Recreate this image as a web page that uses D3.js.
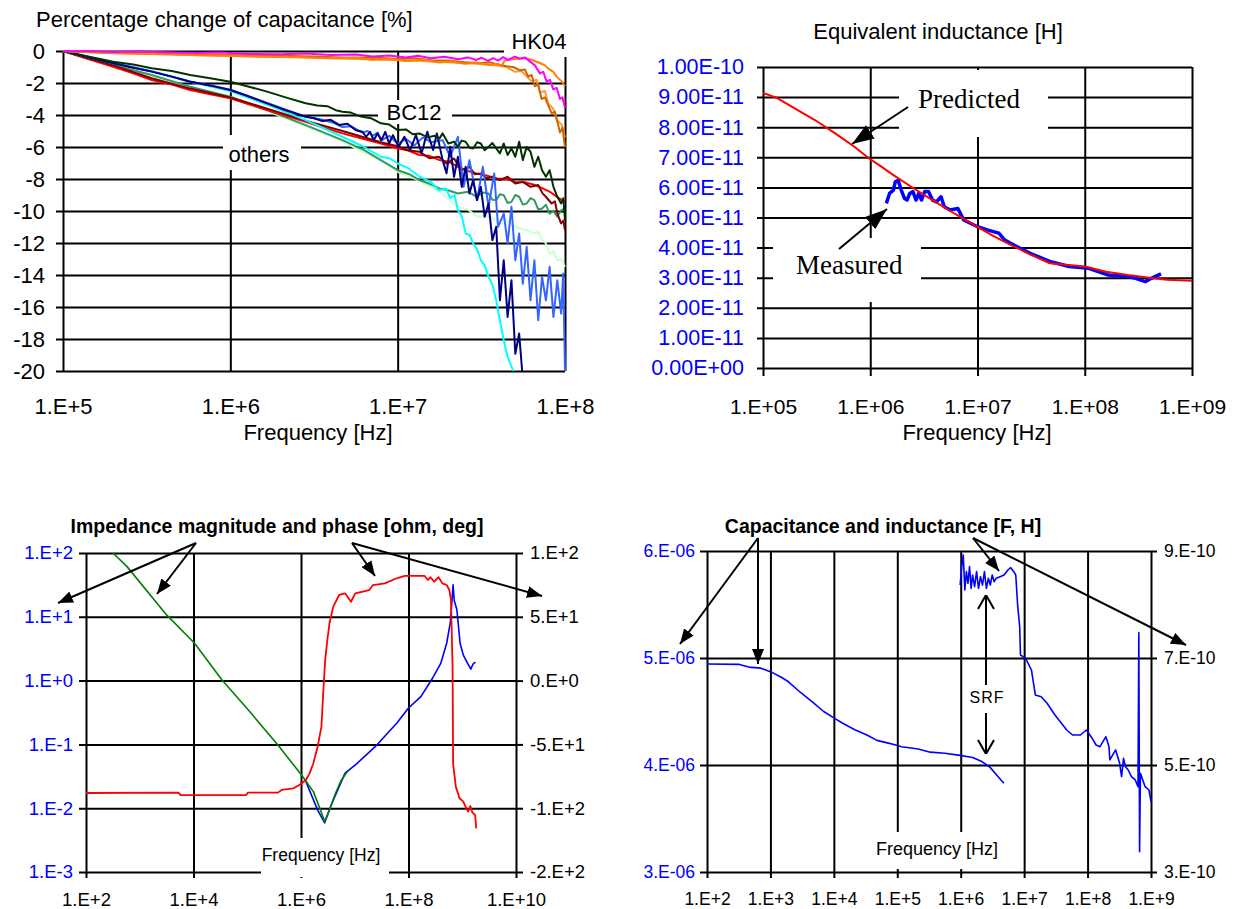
<html>
<head>
<meta charset="utf-8">
<script src="https://d3js.org/d3.v7.min.js"></script>
<style>
  body { margin: 0; background: white; }
</style>
</head>
<body>
<svg id="fig" width="1234" height="909"></svg>
<script>
// x values in every series are log10(frequency / Hz)

// ---------- top left: percentage change of capacitance [%]
var pctFreqTicks = [1e5, 1e6, 1e7, 1e8];
var pctFreqLabels = ["1.E+5", "1.E+6", "1.E+7", "1.E+8"];
var pctTicks = [0, -2, -4, -6, -8, -10, -12, -14, -16, -18, -20];
var pctLabels = ["0", "-2", "-4", "-6", "-8", "-10", "-12", "-14", "-16", "-18", "-20"];

var hkMagenta = [[5.0,0],[5.15,-0.02],[5.3,-0.06],[5.45,-0.03],[5.6,-0.08],[5.8,-0.12],[5.95,-0.1],[6.1,-0.18],[6.3,-0.2],[6.45,-0.16],[6.6,-0.25],[6.75,-0.22],[6.85,-0.34],[6.95,-0.28],[7.05,-0.4],[7.12,-0.3],[7.2,-0.45],[7.28,-0.36],[7.36,-0.52],[7.42,-0.4],[7.47,-0.56],[7.5,-0.42],[7.54,-0.62],[7.57,-0.45],[7.6,-0.6],[7.63,-0.38],[7.66,-0.55],[7.7,-0.35],[7.73,-0.48],[7.76,-0.4],[7.79,-0.65],[7.82,-0.9],[7.85,-1.4],[7.87,-1.3],[7.89,-1.9],[7.91,-1.8],[7.93,-2.4],[7.95,-2.3],[7.97,-3.0],[7.985,-2.9],[8.0,-3.55]];
var hkOrange = [[5.0,0],[5.2,-0.1],[5.4,-0.16],[5.6,-0.2],[5.8,-0.26],[6.0,-0.3],[6.2,-0.36],[6.4,-0.38],[6.6,-0.45],[6.75,-0.42],[6.85,-0.55],[6.95,-0.48],[7.05,-0.62],[7.15,-0.55],[7.25,-0.72],[7.32,-0.65],[7.4,-0.8],[7.47,-0.72],[7.55,-0.88],[7.6,-0.8],[7.62,-0.95],[7.64,-0.6],[7.7,-0.5],[7.76,-0.45],[7.8,-0.55],[7.85,-0.75],[7.88,-0.9],[7.9,-1.1],[7.93,-1.3],[7.95,-1.6],[7.98,-1.9],[8.0,-2.2]];
var hkBrown = [[5.0,0],[5.3,-0.1],[5.7,-0.2],[6.0,-0.25],[6.3,-0.3],[6.5,-0.35],[6.7,-0.42],[6.85,-0.4],[7.0,-0.5],[7.1,-0.45],[7.2,-0.58],[7.3,-0.6],[7.4,-0.7],[7.5,-0.75],[7.55,-0.7],[7.6,-0.85],[7.65,-0.95],[7.69,-1.0],[7.73,-1.2],[7.76,-1.15],[7.78,-1.6],[7.8,-1.5],[7.82,-2.2],[7.84,-2.1],[7.86,-3.0],[7.88,-2.9],[7.9,-3.4],[7.92,-3.9],[7.94,-3.8],[7.97,-5.1],[7.985,-4.8],[8.0,-6.0]];
var hkLight = [[5.0,0],[5.3,-0.14],[5.7,-0.22],[6.0,-0.32],[6.3,-0.38],[6.5,-0.42],[6.75,-0.5],[7.0,-0.58],[7.15,-0.62],[7.3,-0.7],[7.45,-0.78],[7.6,-0.9],[7.65,-1.0],[7.7,-1.3],[7.74,-1.25],[7.8,-1.9],[7.83,-1.8],[7.85,-2.6],[7.88,-2.5],[7.9,-3.3],[7.93,-3.6],[7.95,-4.3],[7.98,-4.6],[8.0,-5.4]];

var bcDarkGreen = [[5.0,0],[5.15,-0.35],[5.3,-0.67],[5.42,-0.85],[5.53,-1.08],[5.65,-1.25],[5.76,-1.5],[5.88,-1.7],[6.0,-1.92],[6.1,-2.2],[6.22,-2.54],[6.33,-2.9],[6.45,-3.27],[6.52,-3.4],[6.58,-3.45],[6.63,-3.7],[6.67,-3.8],[6.72,-3.85],[6.78,-4.1],[6.84,-4.2],[6.9,-4.52],[6.95,-4.6],[7.0,-4.94],[7.05,-4.9],[7.09,-5.2],[7.13,-5.15],[7.18,-5.4],[7.22,-5.3],[7.25,-5.46],[7.269,-5.15],[7.303,-5.78],[7.337,-5.67],[7.36,-5.99],[7.383,-5.6],[7.406,-5.67],[7.43,-6.05],[7.451,-6.09],[7.475,-5.7],[7.497,-5.78],[7.52,-6.2],[7.543,-5.99],[7.566,-5.75],[7.589,-6.09],[7.611,-6.4],[7.634,-5.78],[7.657,-6.5],[7.68,-6.09],[7.703,-6.61],[7.726,-5.67],[7.748,-6.82],[7.771,-5.99],[7.794,-6.3],[7.817,-7.24],[7.84,-6.61],[7.863,-7.45],[7.886,-7.86],[7.908,-7.45],[7.931,-8.49],[7.954,-9.11],[7.977,-9.53],[7.99,-9.2],[8.0,-10.57]];
var otRed = [[5.0,0],[5.15,-0.5],[5.3,-0.98],[5.42,-1.4],[5.53,-1.81],[5.65,-2.1],[5.76,-2.44],[5.88,-2.7],[6.0,-2.96],[6.1,-3.3],[6.22,-3.69],[6.33,-4.05],[6.45,-4.42],[6.56,-4.8],[6.67,-5.15],[6.78,-5.45],[6.9,-5.78],[7.0,-6.09],[7.06,-6.2],[7.13,-6.5],[7.19,-6.55],[7.25,-6.82],[7.3,-6.9],[7.36,-7.24],[7.42,-7.5],[7.47,-7.65],[7.52,-7.75],[7.59,-7.97],[7.65,-8.0],[7.7,-8.18],[7.76,-8.2],[7.82,-8.38],[7.87,-8.6],[7.91,-8.8],[7.95,-9.1],[7.98,-9.3],[8.0,-9.42]];
var otDarkRed = [[5.0,0],[5.3,-0.9],[5.53,-1.7],[5.76,-2.35],[6.0,-2.9],[6.22,-3.6],[6.45,-4.35],[6.67,-5.0],[6.9,-5.7],[7.0,-5.95],[7.06,-6.2],[7.13,-6.3],[7.19,-6.7],[7.246,-6.61],[7.292,-7.03],[7.337,-6.72],[7.383,-7.45],[7.429,-7.24],[7.46,-7.7],[7.497,-7.65],[7.53,-7.95],[7.566,-7.86],[7.611,-8.07],[7.657,-7.86],[7.703,-8.28],[7.748,-8.18],[7.794,-8.49],[7.84,-8.38],[7.866,-8.9],[7.886,-9.11],[7.92,-9.53],[7.94,-9.4],[7.954,-10.16],[7.977,-10.78],[7.99,-10.6],[8.0,-11.2]];
var otSeaGreen = [[5.0,0],[5.3,-0.88],[5.53,-1.5],[5.76,-2.23],[6.0,-2.86],[6.22,-3.69],[6.45,-4.63],[6.67,-5.57],[6.8,-6.2],[6.9,-6.82],[7.0,-7.45],[7.07,-7.7],[7.13,-8.07],[7.19,-8.3],[7.25,-8.59],[7.3,-8.7],[7.36,-8.91],[7.42,-8.8],[7.474,-9.11],[7.51,-8.85],[7.543,-8.91],[7.566,-9.3],[7.589,-9.32],[7.611,-8.95],[7.634,-9.01],[7.657,-9.5],[7.68,-9.43],[7.703,-9.0],[7.726,-9.11],[7.748,-9.6],[7.771,-9.53],[7.794,-9.2],[7.817,-9.32],[7.84,-9.9],[7.863,-9.84],[7.886,-9.6],[7.908,-10.16],[7.931,-10.0],[7.954,-10.36],[7.977,-9.95],[8.0,-9.84]];
var otPaleGreen = [[5.0,0],[5.3,-0.9],[5.53,-1.55],[5.76,-2.28],[6.0,-2.9],[6.22,-3.75],[6.45,-4.7],[6.67,-5.65],[6.9,-6.9],[7.0,-7.55],[7.13,-8.1],[7.25,-8.8],[7.36,-9.74],[7.42,-9.9],[7.474,-10.36],[7.53,-10.3],[7.589,-10.57],[7.65,-10.6],[7.703,-10.99],[7.771,-11.2],[7.817,-11.41],[7.84,-11.3],[7.863,-11.82],[7.885,-12.0],[7.908,-12.66],[7.93,-12.5],[7.954,-13.08],[7.977,-13.0],[8.0,-13.49]];
var otCyan = [[5.0,0],[5.3,-0.77],[5.53,-1.29],[5.76,-1.92],[6.0,-2.5],[6.22,-3.35],[6.45,-4.32],[6.67,-5.36],[6.8,-6.0],[6.9,-6.61],[6.95,-6.7],[7.0,-7.03],[7.06,-7.3],[7.132,-7.86],[7.2,-8.2],[7.246,-8.7],[7.29,-8.6],[7.314,-9.2],[7.34,-9.0],[7.36,-9.95],[7.383,-10.3],[7.406,-11.41],[7.43,-11.5],[7.451,-12.03],[7.475,-12.4],[7.497,-13.08],[7.52,-13.4],[7.543,-14.12],[7.566,-14.6],[7.589,-15.58],[7.611,-16.83],[7.634,-18.08],[7.657,-19.12],[7.691,-20]];
var otNavy = [[5.0,0],[5.15,-0.4],[5.3,-0.77],[5.42,-1.05],[5.53,-1.29],[5.65,-1.6],[5.76,-1.92],[5.88,-2.15],[6.0,-2.44],[6.1,-2.8],[6.22,-3.27],[6.33,-3.7],[6.45,-4.11],[6.5,-4.2],[6.55,-4.38],[6.6,-4.3],[6.65,-4.62],[6.7,-4.55],[6.75,-4.95],[6.789,-5.05],[6.812,-5.36],[6.835,-5.05],[6.857,-5.57],[6.88,-5.15],[6.903,-5.57],[6.926,-5.05],[6.949,-5.78],[6.972,-5.26],[7.006,-5.99],[7.04,-5.36],[7.074,-6.19],[7.109,-5.26],[7.143,-6.4],[7.177,-5.05],[7.212,-6.19],[7.234,-5.15],[7.269,-6.82],[7.292,-7.65],[7.314,-5.99],[7.337,-7.86],[7.36,-6.61],[7.383,-8.49],[7.406,-7.24],[7.429,-8.91],[7.451,-8.07],[7.474,-9.32],[7.497,-8.49],[7.52,-10.36],[7.543,-9.53],[7.566,-11.82],[7.589,-10.99],[7.611,-15.58],[7.634,-13.08],[7.657,-16.62],[7.68,-14.33],[7.703,-18.92],[7.726,-17.66],[7.744,-20]];
var otBlue = [[5.0,0],[5.15,-0.38],[5.3,-0.75],[5.53,-1.27],[5.76,-1.9],[6.0,-2.42],[6.22,-3.25],[6.45,-4.1],[6.55,-4.3],[6.62,-4.5],[6.67,-4.75],[6.72,-4.7],[6.789,-5.1],[6.82,-5.0],[6.85,-5.3],[6.88,-5.1],[6.9,-5.6],[6.95,-5.3],[7.0,-5.8],[7.05,-5.5],[7.1,-5.9],[7.15,-5.4],[7.2,-5.7],[7.269,-5.57],[7.314,-6.61],[7.36,-5.36],[7.394,-8.49],[7.429,-6.82],[7.474,-9.32],[7.509,-7.24],[7.543,-9.74],[7.577,-7.65],[7.6,-10.99],[7.634,-10.16],[7.657,-12.03],[7.68,-9.74],[7.703,-13.08],[7.726,-11.41],[7.748,-14.54],[7.771,-12.24],[7.794,-15.58],[7.817,-13.08],[7.84,-16.83],[7.863,-14.12],[7.886,-15.58],[7.908,-13.49],[7.931,-16.62],[7.954,-14.33],[7.977,-16.41],[7.989,-13.91],[8.0,-20]];

// ---------- top right: equivalent inductance [H], values in 1e-11 H
var indFreqTicks = [1e5, 1e6, 1e7, 1e8, 1e9];
var indFreqLabels = ["1.E+05", "1.E+06", "1.E+07", "1.E+08", "1.E+09"];
var indTicks = [0, 1, 2, 3, 4, 5, 6, 7, 8, 9, 10];
var indLabels = ["0.00E+00", "1.00E-11", "2.00E-11", "3.00E-11", "4.00E-11", "5.00E-11", "6.00E-11", "7.00E-11", "8.00E-11", "9.00E-11", "1.00E-10"];
var predicted = [[5.0,9.14],[5.124,8.98],[5.3,8.62],[5.488,8.23],[5.68,7.78],[5.852,7.35],[5.99,6.96],[6.1,6.7],[6.216,6.41],[6.4,5.98],[6.58,5.58],[6.8,5.1],[6.995,4.7],[7.15,4.38],[7.309,4.09],[7.5,3.76],[7.673,3.48],[7.85,3.42],[8.0,3.37],[8.2,3.2],[8.401,3.09],[8.6,3.0],[8.765,2.93],[9.0,2.9]];
var measured = [[6.15,5.47],[6.18,5.8],[6.216,5.91],[6.234,6.19],[6.26,6.24],[6.289,5.91],[6.318,5.64],[6.343,5.58],[6.369,5.8],[6.398,5.86],[6.427,5.58],[6.453,5.8],[6.478,5.58],[6.507,5.86],[6.544,5.86],[6.58,5.58],[6.617,5.52],[6.66,5.69],[6.69,5.36],[6.744,5.25],[6.817,5.3],[6.871,4.92],[6.995,4.7],[7.09,4.59],[7.199,4.48],[7.254,4.25],[7.309,4.14],[7.491,3.81],[7.673,3.54],[7.855,3.37],[8.037,3.31],[8.219,3.09],[8.401,3.04],[8.474,2.98],[8.565,2.87],[8.62,2.98],[8.711,3.13]];

// ---------- bottom left: impedance magnitude [ohm] and phase [deg]
var zFreqTicks = [1e2, 1e4, 1e6, 1e8, 1e10];
var zFreqLabels = ["1.E+2", "1.E+4", "1.E+6", "1.E+8", "1.E+10"];
var zMagTicks = [1e-3, 1e-2, 1e-1, 1, 10, 100];
var zMagLabels = ["1.E-3", "1.E-2", "1.E-1", "1.E+0", "1.E+1", "1.E+2"];
var zPhaseTicks = [-150, -100, -50, 0, 50, 100];
var zPhaseLabels = ["-2.E+2", "-1.E+2", "-5.E+1", "0.E+0", "5.E+1", "1.E+2"];
var zMagLow = [[2.5,100],[2.76,61.7],[3.5,10.7],[4.02,3.85],[4.53,1.02],[5.05,0.324],[5.57,0.0977],[6.01,0.0331],[6.23,0.0182],[6.34,0.0105],[6.44,0.00617],[6.53,0.00933],[6.64,0.017],[6.75,0.0275],[6.86,0.0372]];
var zMagHigh = [[6.09,0.0263],[6.31,0.00933],[6.44,0.00589],[6.56,0.0112],[6.82,0.0355],[7.04,0.0501],[7.41,0.0977],[7.78,0.214],[8.0,0.372],[8.23,0.562],[8.45,1.1],[8.6,1.86],[8.71,3.85],[8.78,8.32],[8.83,31.6],[8.85,18.2],[8.9,12.9],[8.96,3.85],[9.02,2.51],[9.1,1.86],[9.16,1.51],[9.2,1.82],[9.245,1.95]];
var zPhase = [[2.0,-88.1],[3.72,-87.8],[3.76,-89.7],[4.98,-89.7],[5.01,-87.8],[5.57,-87.8],[5.64,-85.7],[5.86,-84.4],[5.97,-81.8],[6.09,-77.9],[6.16,-72.7],[6.23,-64.8],[6.31,-51.8],[6.38,-36.1],[6.42,-4.8],[6.45,16.1],[6.49,31.8],[6.53,44.9],[6.6,57.9],[6.71,67.1],[6.82,68.4],[6.93,61.8],[7.01,68.4],[7.27,71.0],[7.34,74.9],[7.56,76.2],[7.78,80.2],[7.93,82.0],[8.3,82.0],[8.36,78.8],[8.41,81.0],[8.48,77.5],[8.56,81.0],[8.63,76.2],[8.71,74.9],[8.76,71.0],[8.79,63.2],[8.82,10.9],[8.83,-64.8],[8.88,-83.1],[8.95,-92.2],[9.02,-94.9],[9.075,-100.1],[9.11,-102.7],[9.15,-98.3],[9.19,-103.5],[9.24,-105.3],[9.26,-115.8]];

// ---------- bottom right: capacitance [1e-6 F] and inductance [1e-10 H]
var clFreqTicks = [1e2, 1e3, 1e4, 1e5, 1e6, 1e7, 1e8, 1e9];
var clFreqLabels = ["1.E+2", "1.E+3", "1.E+4", "1.E+5", "1.E+6", "1.E+7", "1.E+8", "1.E+9"];
var capTicks = [3, 4, 5, 6];
var capLabels = ["3.E-06", "4.E-06", "5.E-06", "6.E-06"];
var lTicks = [3, 5, 7, 9];
var lLabels = ["3.E-10", "5.E-10", "7.E-10", "9.E-10"];
var capCurve = [[2.0,4.944],[2.51,4.94],[2.66,4.915],[2.85,4.905],[3.01,4.87],[3.17,4.82],[3.28,4.78],[3.47,4.68],[3.66,4.59],[3.84,4.5],[4.0,4.44],[4.14,4.39],[4.33,4.33],[4.52,4.28],[4.68,4.23],[4.89,4.2],[5.07,4.17],[5.33,4.15],[5.52,4.12],[5.75,4.11],[5.99,4.09],[6.19,4.07],[6.34,4.03],[6.46,3.98],[6.59,3.89],[6.68,3.83]];
var indCurve = [[5.991,8.364],[6.015,8.707],[6.04,8.925],[6.065,8.271],[6.089,8.614],[6.114,8.396],[6.139,8.707],[6.164,8.302],[6.188,8.551],[6.219,8.333],[6.25,8.614],[6.281,8.302],[6.312,8.52],[6.343,8.364],[6.374,8.614],[6.405,8.302],[6.436,8.489],[6.466,8.364],[6.497,8.551],[6.528,8.427],[6.559,8.489],[6.621,8.52],[6.683,8.551],[6.744,8.645],[6.788,8.688],[6.837,8.614],[6.868,8.551],[6.899,7.959],[6.93,7.586],[6.942,7.056],[7.023,6.994],[7.115,6.776],[7.177,6.308],[7.269,6.277],[7.362,6.153],[7.486,5.935],[7.671,5.654],[7.764,5.561],[7.887,5.561],[7.98,5.654],[8.073,5.499],[8.134,5.374],[8.196,5.343],[8.289,5.53],[8.338,5.343],[8.351,5.094],[8.443,5.281],[8.505,5.031],[8.536,4.782],[8.567,5.125],[8.598,4.969],[8.641,4.907],[8.691,4.782],[8.752,4.72],[8.795,4.595],[8.808,7.474],[8.82,3.38],[8.833,4.845],[8.907,4.595],[8.968,4.533],[9.0,4.315]];

var svg = d3.select("#fig");
var FONT = "'Liberation Sans', Arial, Helvetica, sans-serif";
var SERIF = "'Liberation Serif', 'Times New Roman', serif";

function lab(labels) { return function(d, i) { return labels[i]; }; }

// horizontal grid lines + left labels
function gridY(scale, vals, labels, x0, x1, tick, size, color, pad) {
  var g = svg.append("g").attr("transform", "translate(" + x0 + ",0)")
    .call(d3.axisLeft(scale).tickValues(vals).tickFormat(lab(labels))
      .tickSize(-(x1 - x0)).tickSizeOuter(0).tickPadding(pad));
  g.select(".domain").remove();
  g.selectAll(".tick line").attr("x1", -tick).attr("stroke", "#000").attr("stroke-width", 2);
  g.selectAll(".tick text").attr("font-family", FONT).attr("font-size", size).attr("fill", color);
}
// vertical grid lines + bottom labels
function gridX(scale, vals, labels, y0, y1, tick, size, base) {
  var g = svg.append("g").attr("transform", "translate(0," + y0 + ")")
    .call(d3.axisBottom(scale).tickValues(vals).tickFormat(lab(labels))
      .tickSize(-(y0 - y1)).tickSizeOuter(0));
  g.select(".domain").remove();
  g.selectAll(".tick line").attr("y1", tick).attr("stroke", "#000").attr("stroke-width", 2);
  g.selectAll(".tick text").attr("font-family", FONT).attr("font-size", size).attr("fill", "#000")
    .attr("y", base).attr("dy", null);
}
// right labels with short outward ticks
function rightAxis(scale, vals, labels, x1, tick, size, pad) {
  var g = svg.append("g").attr("transform", "translate(" + x1 + ",0)")
    .call(d3.axisRight(scale).tickValues(vals).tickFormat(lab(labels))
      .tickSize(tick).tickSizeOuter(0).tickPadding(pad));
  g.select(".domain").remove();
  g.selectAll(".tick line").attr("stroke", "#000").attr("stroke-width", 2);
  g.selectAll(".tick text").attr("font-family", FONT).attr("font-size", size).attr("fill", "#000");
}
function text(x, y, s, size, anchor, extra) {
  var t = svg.append("text").attr("x", x).attr("y", y).text(s)
    .attr("font-family", FONT).attr("font-size", size).attr("text-anchor", anchor || "middle");
  if (extra) for (var k in extra) t.attr(k, extra[k]);
  return t;
}
function blank(x, y, w, h) {
  svg.append("rect").attr("x", x).attr("y", y).attr("width", w).attr("height", h).attr("fill", "#fff");
}
function curve(xs, ys, data, color, width) {
  svg.append("path").datum(data)
    .attr("fill", "none").attr("stroke", color).attr("stroke-width", width)
    .attr("stroke-linejoin", "round")
    .attr("d", d3.line().x(function(d) { return xs(Math.pow(10, d[0])); })
                        .y(function(d) { return ys(d[1]); }));
}
function arrow(x1, y1, x2, y2, head) {
  svg.append("line").attr("x1", x1).attr("y1", y1).attr("x2", x2).attr("y2", y2)
    .attr("stroke", "#000").attr("stroke-width", 2).attr("marker-end", "url(#" + head + ")");
}

// arrow heads
var defs = svg.append("defs");
function marker(id, w, h, open) {
  var m = defs.append("marker").attr("id", id).attr("viewBox", "0 0 " + w + " " + h)
    .attr("refX", w).attr("refY", h / 2).attr("markerWidth", w).attr("markerHeight", h)
    .attr("markerUnits", "userSpaceOnUse").attr("orient", "auto");
  if (open) m.append("path").attr("d", "M1,1 L" + w + "," + h / 2 + " L1," + (h - 1))
    .attr("fill", "none").attr("stroke", "#000").attr("stroke-width", 2);
  else m.append("path").attr("d", "M0,0 L" + w + "," + h / 2 + " L0," + h + " Z").attr("fill", "#000");
}
marker("big", 22, 16);
marker("small", 15, 12);
marker("open", 15, 18, true);

// ================= panel 1
var x1 = d3.scaleLog().domain([1e5, 1e8]).range([63, 565]);
var y1 = d3.scaleLinear().domain([-20, 0]).range([371, 51]);
gridY(y1, pctTicks, pctLabels, 63, 565, 7, 22, "#000", 18);
gridX(x1, pctFreqTicks, pctFreqLabels, 371, 51, 0, 22, 43);
text(36, 27, "Percentage change of capacitance [%]", 22, "start");
text(318, 440, "Frequency [Hz]", 22);
blank(504, 28, 72, 29);
blank(378, 100, 74, 24);
blank(223, 135, 78, 35);
text(539, 49, "HK04", 22);
text(414, 120, "BC12", 22);
text(259, 162, "others", 22);

var pctSeries = [
  [otPaleGreen, "#ccffcc"], [otSeaGreen, "#339966"], [otRed, "#ff0000"], [otDarkRed, "#800000"],
  [otCyan, "#00ffff"], [otBlue, "#3366ff"], [otNavy, "#000080"], [bcDarkGreen, "#003300"],
  [hkLight, "#ff9933"], [hkBrown, "#cc6600"], [hkOrange, "#ff8000"], [hkMagenta, "#ff00ff"]
];
pctSeries.forEach(function(s) { curve(x1, y1, s[0], s[1], 2); });

// ================= panel 2
var x2 = d3.scaleLog().domain([1e5, 1e9]).range([763, 1192]);
var y2 = d3.scaleLinear().domain([0, 10]).range([368, 67]);
gridY(y2, indTicks, indLabels, 763, 1192, 6, 21.5, "#0000ff", 19);
gridX(x2, indFreqTicks, indFreqLabels, 368, 67, 8, 21, 46);
text(938, 39, "Equivalent inductance [H]", 22);
text(977, 440, "Frequency [Hz]", 22);
blank(899, 70, 149, 67);
blank(773, 238, 148, 64);
text(918, 108, "Predicted", 27, "start", {"font-family": SERIF});
text(796, 274, "Measured", 27, "start", {"font-family": SERIF});
arrow(908, 107, 852, 144, "big");
arrow(839, 249, 887, 209, "big");
curve(x2, y2, measured, "#0000ff", 3.5);
curve(x2, y2, predicted, "#ff0000", 2);

// ================= panel 3
var x3 = d3.scaleLog().domain([1e2, 1e10]).range([86, 516]);
var y3 = d3.scaleLog().domain([1e-3, 1e2]).range([872, 553]);
var y3r = d3.scaleLinear().domain([-150, 100]).range([872, 553]);
gridY(y3, zMagTicks, zMagLabels, 86, 516, 7, 18.5, "#0000ff", 13);
gridX(x3, zFreqTicks, zFreqLabels, 872, 553, 6, 18.5, 34);
rightAxis(y3r, zPhaseTicks, zPhaseLabels, 516, 7, 18.5, 7);
blank(261, 838, 128, 39);
text(321, 861, "Frequency [Hz]", 17.5);
text(277, 533, "Impedance magnitude and phase [ohm, deg]", 19.5, "middle", {"font-weight": "bold"});
curve(x3, y3, zMagHigh, "#0000ff", 1.6);
curve(x3, y3, zMagLow, "#008000", 1.6);
curve(x3, y3r, zPhase, "#ff0000", 1.8);
arrow(196, 543, 58, 603, "small");
arrow(196, 543, 157, 594, "small");
arrow(352, 543, 375, 576, "small");
arrow(352, 543, 542, 596, "small");

// ================= panel 4
var x4 = d3.scaleLog().domain([1e2, 1e9]).range([707, 1151]);
var y4 = d3.scaleLinear().domain([3, 6]).range([872, 551]);
var y4r = d3.scaleLinear().domain([3, 9]).range([872, 551]);
gridY(y4, capTicks, capLabels, 707, 1151, 7, 17.5, "#0000ff", 12);
gridX(x4, clFreqTicks, clFreqLabels, 872, 551, 6, 17.5, 33);
rightAxis(y4r, lTicks, lLabels, 1151, 6, 17.5, 7);
blank(873, 832, 127, 37);
text(937, 855, "Frequency [Hz]", 18);
text(883, 533, "Capacitance and inductance [F, H]", 19.5, "middle", {"font-weight": "bold"});
curve(x4, y4, capCurve, "#0000ff", 1.6);
curve(x4, y4r, indCurve, "#0000ff", 1.6);
arrow(758, 538, 680, 644, "small");
arrow(758, 538, 758, 664, "small");
arrow(973, 538, 999, 571, "small");
arrow(973, 538, 1186, 645, "small");
arrow(986, 685, 986, 595, "open");
arrow(986, 713, 986, 754, "open");
text(987, 703, "SRF", 16, "middle", {"letter-spacing": 1});
</script>
</body>
</html>
